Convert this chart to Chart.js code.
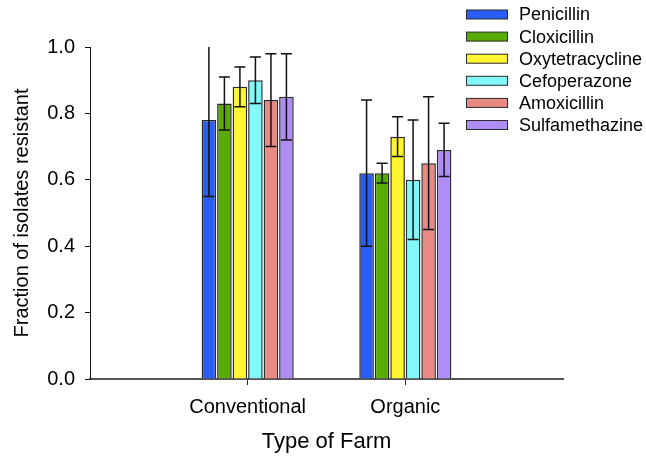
<!DOCTYPE html>
<html>
<head>
<meta charset="utf-8">
<script src="https://cdn.jsdelivr.net/npm/chart.js@4/dist/chart.umd.min.js"></script>
<style>
  html, body { margin: 0; padding: 0; background: #fff; }
  #wrap { width: 646px; height: 459px; position: relative; }
</style>
</head>
<body>
<div id="wrap"><canvas id="c" width="646" height="459"></canvas></div>
<script>
// ---- data ----
const categories = ['Conventional', 'Organic'];
const categoryPositions = [1, 2];
const drugs = ['Penicillin', 'Cloxicillin', 'Oxytetracycline', 'Cefoperazone', 'Amoxicillin', 'Sulfamethazine'];
const colors = ['#2a5cf6', '#58ab00', '#fff530', '#82f8fa', '#e88a84', '#b08cf6'];
const penicillin      = [0.78, 0.62];
const cloxicillin     = [0.83, 0.62];
const oxytetracycline = [0.88, 0.73];
const cefoperazone    = [0.90, 0.60];
const amoxicillin     = [0.84, 0.65];
const sulfamethazine  = [0.85, 0.69];
const penicillinErr      = [0.23, 0.22];
const cloxicillinErr     = [0.08, 0.03];
const oxytetracyclineErr = [0.06, 0.06];
const cefoperazoneErr    = [0.07, 0.18];
const amoxicillinErr     = [0.14, 0.20];
const sulfamethazineErr  = [0.13, 0.08];
const yTicks = [0, 0.2, 0.4, 0.6, 0.8, 1.0];

const values = [penicillin, cloxicillin, oxytetracycline, cefoperazone, amoxicillin, sulfamethazine];
const errors = [penicillinErr, cloxicillinErr, oxytetracyclineErr, cefoperazoneErr, amoxicillinErr, sulfamethazineErr];

const FONT = "'Liberation Sans', Arial, sans-serif";

const datasets = drugs.map((d, i) => ({
  label: d,
  data: values[i].map((v, j) => ({ x: categoryPositions[j], y: v })),
  errors: errors[i],
  backgroundColor: colors[i],
  borderColor: '#2a2a2a',
  borderWidth: 1.5,
  categoryPercentage: 0.59,
  barPercentage: 0.94
}));

const errorBars = {
  id: 'errorBars',
  afterDatasetsDraw(chart) {
    const ctx = chart.ctx;
    const ys = chart.scales.y;
    const area = chart.chartArea;
    ctx.save();
    ctx.beginPath();
    ctx.rect(area.left, area.top, area.right - area.left, area.bottom - area.top);
    ctx.clip();
    ctx.strokeStyle = '#111';
    ctx.lineWidth = 1.5;
    chart.data.datasets.forEach((ds, i) => {
      const meta = chart.getDatasetMeta(i);
      meta.data.forEach((bar, j) => {
        const v = ds.data[j].y, e = ds.errors[j];
        const yt = ys.getPixelForValue(v + e);
        const yb = ys.getPixelForValue(v - e);
        const x = bar.x;
        const cw = 5.5;
        ctx.beginPath();
        ctx.moveTo(x, yt); ctx.lineTo(x, yb);
        ctx.moveTo(x - cw, yt); ctx.lineTo(x + cw, yt);
        ctx.moveTo(x - cw, yb); ctx.lineTo(x + cw, yb);
        ctx.stroke();
      });
    });
    ctx.restore();
  }
};

const customLegend = {
  id: 'customLegend',
  afterDraw(chart) {
    const ctx = chart.ctx;
    ctx.save();
    ctx.font = '18px ' + FONT;
    ctx.textBaseline = 'middle';
    ctx.textAlign = 'left';
    chart.data.datasets.forEach((ds, i) => {
      const cy = 14.5 + i * 22.1;
      ctx.fillStyle = ds.backgroundColor;
      ctx.fillRect(466, cy - 4.5, 42, 9);
      ctx.strokeStyle = '#2a2a2a';
      ctx.lineWidth = 1;
      ctx.strokeRect(466.5, cy - 4.5, 41, 9);
      ctx.fillStyle = '#000';
      ctx.fillText(ds.label, 519, cy + 1);
    });
    ctx.restore();
  }
};

new Chart(document.getElementById('c'), {
  type: 'bar',
  data: { datasets },
  options: {
    responsive: false,
    animation: false,
    layout: { padding: { top: 47, right: 83, left: 0, bottom: 0 } },
    plugins: { legend: { display: false }, tooltip: { enabled: false } },
    scales: {
      x: {
        type: 'linear',
        min: 0, max: 3,
        offset: false,
        afterBuildTicks: s => { s.ticks = categoryPositions.map(v => ({ value: v })); },
        afterFit: s => { s.height = 80; },
        ticks: {
          callback: (v, i) => categories[i],
          font: { family: FONT, size: 20 },
          color: '#000',
          padding: 10,
          maxRotation: 0,
          autoSkip: false
        },
        grid: { display: true, drawOnChartArea: false, drawTicks: true, tickLength: 6, color: '#222', offset: false },
        border: { display: true, color: '#555', width: 2 },
        title: { display: true, text: 'Type of Farm', font: { family: FONT, size: 22 }, color: '#000', padding: { top: 0, bottom: 4 } }
      },
      y: {
        min: 0, max: 1,
        afterBuildTicks: s => { s.ticks = yTicks.map(v => ({ value: v })); },
        afterFit: s => { s.width = 90; },
        ticks: {
          callback: v => v.toFixed(1),
          font: { family: FONT, size: 20 },
          color: '#000',
          padding: 10
        },
        grid: { display: true, drawOnChartArea: false, drawTicks: true, tickLength: 5, color: '#111' },
        border: { display: true, color: '#111', width: 1 },
        title: { display: true, text: 'Fraction of isolates resistant', font: { family: FONT, size: 20 }, color: '#000', padding: { top: 10, bottom: 0 } }
      }
    }
  },
  plugins: [errorBars, customLegend]
});
</script>
</body>
</html>
